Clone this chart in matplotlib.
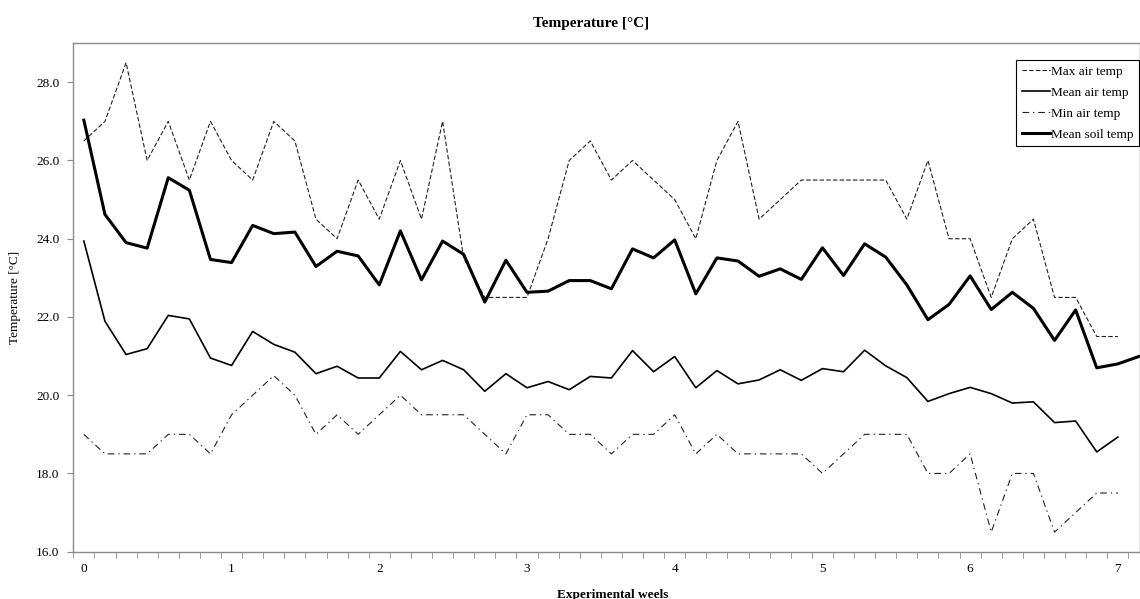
import numpy as np
import matplotlib
matplotlib.use("Agg")
import matplotlib.pyplot as plt
from matplotlib.ticker import FixedLocator, FormatStrFormatter

plt.rcParams['font.family'] = ['Liberation Serif', 'DejaVu Serif']

# daily readings, day 0 .. 49 (soil has one extra day)
max_air = [26.5, 27.0, 28.5, 26.0, 27.0, 25.5, 27.0, 26.0, 25.5, 27.0,
           26.5, 24.5, 24.0, 25.5, 24.5, 26.0, 24.5, 27.0, 23.5, 22.5,
           22.5, 22.5, 24.0, 26.0, 26.5, 25.5, 26.0, 25.5, 25.0, 24.0,
           26.0, 27.0, 24.5, 25.0, 25.5, 25.5, 25.5, 25.5, 25.5, 24.5,
           26.0, 24.0, 24.0, 22.5, 24.0, 24.5, 22.5, 22.5, 21.5, 21.5]
mean_air = [23.94, 21.89, 21.04, 21.19, 22.04, 21.95, 20.95, 20.76, 21.63, 21.30,
            21.10, 20.55, 20.74, 20.44, 20.44, 21.12, 20.65, 20.89, 20.65, 20.10,
            20.55, 20.19, 20.35, 20.14, 20.48, 20.44, 21.14, 20.60, 20.99, 20.19,
            20.63, 20.29, 20.39, 20.65, 20.38, 20.68, 20.60, 21.15, 20.75, 20.45,
            19.84, 20.04, 20.20, 20.04, 19.80, 19.83, 19.30, 19.34, 18.55, 18.93]
min_air = [19.0, 18.5, 18.5, 18.5, 19.0, 19.0, 18.5, 19.5, 20.0, 20.5,
           20.0, 19.0, 19.5, 19.0, 19.5, 20.0, 19.5, 19.5, 19.5, 19.0,
           18.5, 19.5, 19.5, 19.0, 19.0, 18.5, 19.0, 19.0, 19.5, 18.5,
           19.0, 18.5, 18.5, 18.5, 18.5, 18.0, 18.5, 19.0, 19.0, 19.0,
           18.0, 18.0, 18.5, 16.5, 18.0, 18.0, 16.5, 17.0, 17.5, 17.5]
mean_soil = [27.03, 24.62, 23.90, 23.76, 25.56, 25.24, 23.47, 23.39, 24.34, 24.13,
             24.17, 23.29, 23.68, 23.56, 22.82, 24.20, 22.95, 23.94, 23.60, 22.38,
             23.45, 22.63, 22.66, 22.93, 22.93, 22.72, 23.74, 23.51, 23.97, 22.59,
             23.51, 23.43, 23.04, 23.23, 22.96, 23.77, 23.06, 23.87, 23.53, 22.82,
             21.93, 22.32, 23.05, 22.19, 22.63, 22.22, 21.40, 22.18, 20.70, 20.80,
             20.99]

week_ticks = [0, 1, 2, 3, 4, 5, 6, 7]
temp_ticks = [16, 18, 20, 22, 24, 26, 28]

weeks_air = np.arange(len(max_air)) / 7
weeks_soil = np.arange(len(mean_soil)) / 7

fig = plt.figure(figsize=(11.4, 5.99), dpi=100)
ax = fig.add_axes([0.0643, 0.079, 0.9357, 0.849])

ax.plot(weeks_air, max_air, color='#222222', lw=0.8, dashes=(4, 2), label='Max air temp')
ax.plot(weeks_air, mean_air, color='black', lw=1.2, label='Mean air temp')
ax.plot(weeks_air, min_air, color='#222222', lw=0.8, dashes=(6, 3.5, 1.2, 3.5), label='Min air temp')
ax.plot(weeks_soil, mean_soil, color='black', lw=2.2, label='Mean soil temp')

ax.set_xlim(-0.5 / 7, 50.05 / 7)
ax.set_ylim(16, 29)

spine_col = '#8a8a8a'
for s in ax.spines.values():
    s.set_color(spine_col)
    s.set_linewidth(1.0)

ax.xaxis.set_major_locator(FixedLocator(week_ticks))
ax.xaxis.set_minor_locator(FixedLocator((np.arange(-1, 50) + 0.5) / 7))
ax.tick_params(axis='x', which='major', length=0, pad=8, labelsize=9.5)
ax.tick_params(axis='x', which='minor', length=4, color=spine_col, direction='out')
ax.yaxis.set_major_locator(FixedLocator(temp_ticks))
ax.yaxis.set_major_formatter(FormatStrFormatter('%.1f'))
ax.tick_params(axis='y', length=4, color=spine_col, pad=6, labelsize=9.5)

ax.set_ylabel('Temperature [°C]', fontsize=9.5)
ax.yaxis.set_label_coords(-0.0486, 0.5)

fig.text(591 / 1140, 1 - 23 / 599, 'Temperature [°C]', ha='center', va='center',
         fontsize=11, fontweight='bold')
fig.text(613 / 1140, 1 - 595 / 599, 'Experimental weels', ha='center', va='center',
         fontsize=9.5, fontweight='bold')

leg = ax.legend(loc='upper right', bbox_to_anchor=(1139 / 1140, 1 - 60 / 599),
                bbox_transform=fig.transFigure, borderaxespad=0, fontsize=9.5,
                handlelength=2.1, handletextpad=0.1, labelspacing=0.66,
                borderpad=0.42, fancybox=False, framealpha=1)
leg.get_frame().set_edgecolor('black')
leg.get_frame().set_linewidth(0.8)

fig.savefig('out.png', dpi=100)
